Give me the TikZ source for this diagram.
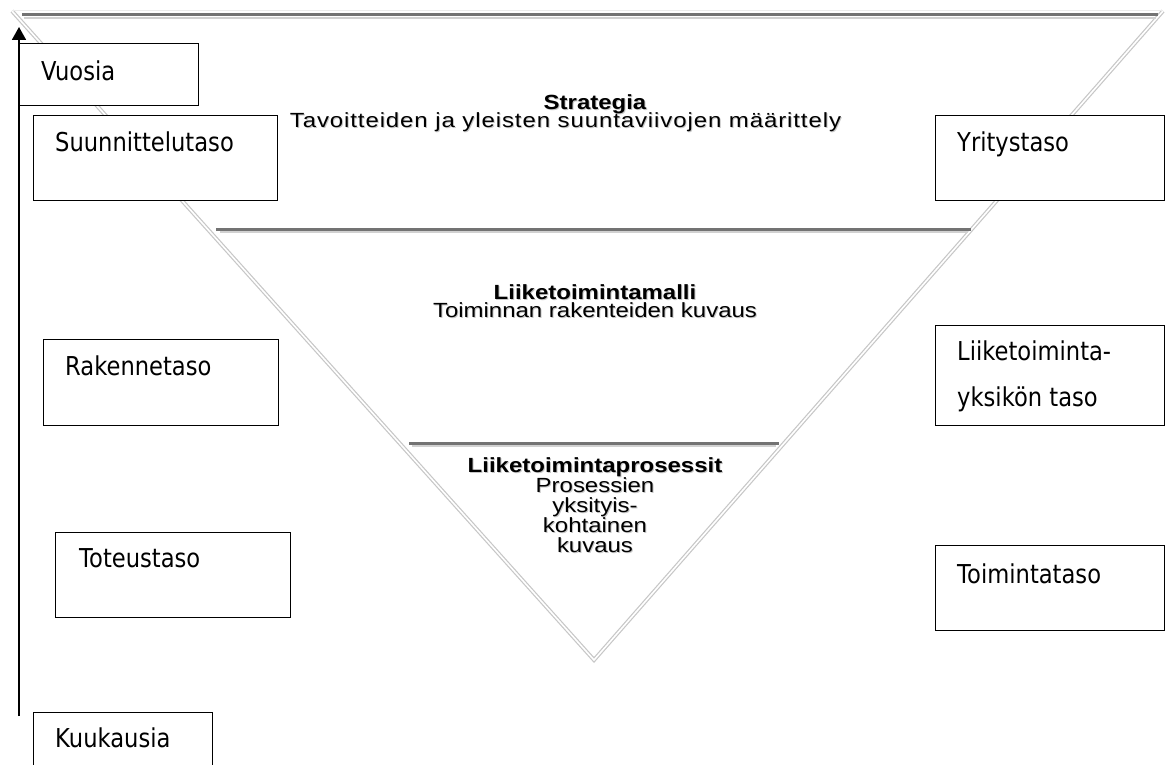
\documentclass[tikz,border=0pt]{standalone}
\usepackage{fontspec}
\usetikzlibrary{arrows.meta}
\setmainfont{Liberation Sans}[FakeStretch=1.17]
\newfontfamily\widefont{Liberation Sans}[FakeStretch=1.17, LetterSpace=4.4]
\newfontfamily\boxfont{DejaVu Sans}[FakeStretch=0.87]
\tikzset{
  lvlbox/.style={draw=black, line width=1.3pt, fill=white, rectangle, inner sep=0pt, anchor=north west},
  boxlbl/.style={font=\boxfont\fontsize{26}{30}\selectfont, anchor=base west, inner sep=0pt},
  tritxt/.style={font=\fontsize{20.5}{20}\selectfont, align=center, inner sep=0pt},
  trishadow/.style={tritxt, text=black!22},
  sepbar/.style={draw=black!55, line width=3pt},
  sepglow/.style={draw=black!18, line width=2pt},
  edge/.style={draw=black!22, line width=4pt, line join=miter},
  edgein/.style={draw=white, line width=1.6pt},
}
\begin{document}
\begin{tikzpicture}[x=1pt,y=-1pt]
\useasboundingbox (0,0) rectangle (1165,765);
% triangle (levels)
\coordinate (tl) at (12,11);
\coordinate (tr) at (1163,11);
\coordinate (ap) at (594,660);
\fill[white] (tl) -- (tr) -- (ap) -- cycle;
\draw[edge] (tl) -- (ap) -- (tr);
\draw[edgein] (tl) -- (ap) -- (tr);
\draw[draw=black!8, line width=1pt] (tl) -- (tr);
% separators
\draw[sepglow] (24,18) -- (1156,18);
\draw[sepbar] (22,15) -- (1158,15);
\draw[sepglow] (220,232) -- (968,232);
\draw[sepbar] (216,229) -- (971,229);
\draw[sepglow] (412,446) -- (776,446);
\draw[sepbar] (409,443) -- (779,443);
% triangle texts with soft shadow
\node[trishadow] at (596,105.5) {\bfseries Strategia};
\node[tritxt] (s1) at (595,104.5) {\bfseries Strategia};
\node[trishadow, font=\widefont\fontsize{20.5}{20}\selectfont] at (566.5,123) {Tavoitteiden ja yleisten suuntaviivojen määrittely};
\node[tritxt, font=\widefont\fontsize{20.5}{20}\selectfont] (s2) at (565.5,122) {Tavoitteiden ja yleisten suuntaviivojen määrittely};
\node[trishadow] at (596,293) {\bfseries Liiketoimintamalli};
\node[tritxt] (m1) at (595,292) {\bfseries Liiketoimintamalli};
\node[trishadow] at (596,311) {Toiminnan rakenteiden kuvaus};
\node[tritxt] (m2) at (595,310) {Toiminnan rakenteiden kuvaus};
\node[trishadow, anchor=north] at (596,458.5) {\bfseries Liiketoimintaprosessit\\Prosessien\\yksityis-\\kohtainen\\kuvaus};
\node[tritxt, anchor=north] (p1) at (595,457.5) {\bfseries Liiketoimintaprosessit\\Prosessien\\yksityis-\\kohtainen\\kuvaus};
% left boxes
\node[lvlbox, minimum width=179pt, minimum height=62pt] (vuo) at (19,43) {};
\node[boxlbl] at (41,81) {Vuosia};
\node[lvlbox, minimum width=244pt, minimum height=85pt] (suu) at (33,115) {};
\node[boxlbl] at (55,152) {Suunnittelutaso};
\node[lvlbox, minimum width=235pt, minimum height=86pt] (rak) at (43,339) {};
\node[boxlbl] at (65,375) {Rakennetaso};
\node[lvlbox, minimum width=235pt, minimum height=85pt] (tot) at (55,532) {};
\node[boxlbl] at (79,567) {Toteustaso};
\node[lvlbox, minimum width=179pt, minimum height=60pt] (kuu) at (33,712) {};
\node[boxlbl] at (55,747) {Kuukausia};
% right boxes
\node[lvlbox, minimum width=229pt, minimum height=85pt] (yri) at (935,115) {};
\node[boxlbl] at (957,152) {Yritystaso};
\node[lvlbox, minimum width=229pt, minimum height=100pt] (lii) at (935,325) {};
\node[boxlbl] at (957,360) {Liiketoiminta-};
\node[boxlbl] at (957,406) {yksikön taso};
\node[lvlbox, minimum width=229pt, minimum height=85pt] (toi) at (935,545) {};
\node[boxlbl] at (957,583) {Toimintataso};
% time axis arrow
\coordinate (abot) at (19,716);
\coordinate (atop) at (19,27);
\draw[line width=1.8pt, -{Triangle[width=14pt,length=13pt]}] (abot) -- (atop);
\end{tikzpicture}
\end{document}
